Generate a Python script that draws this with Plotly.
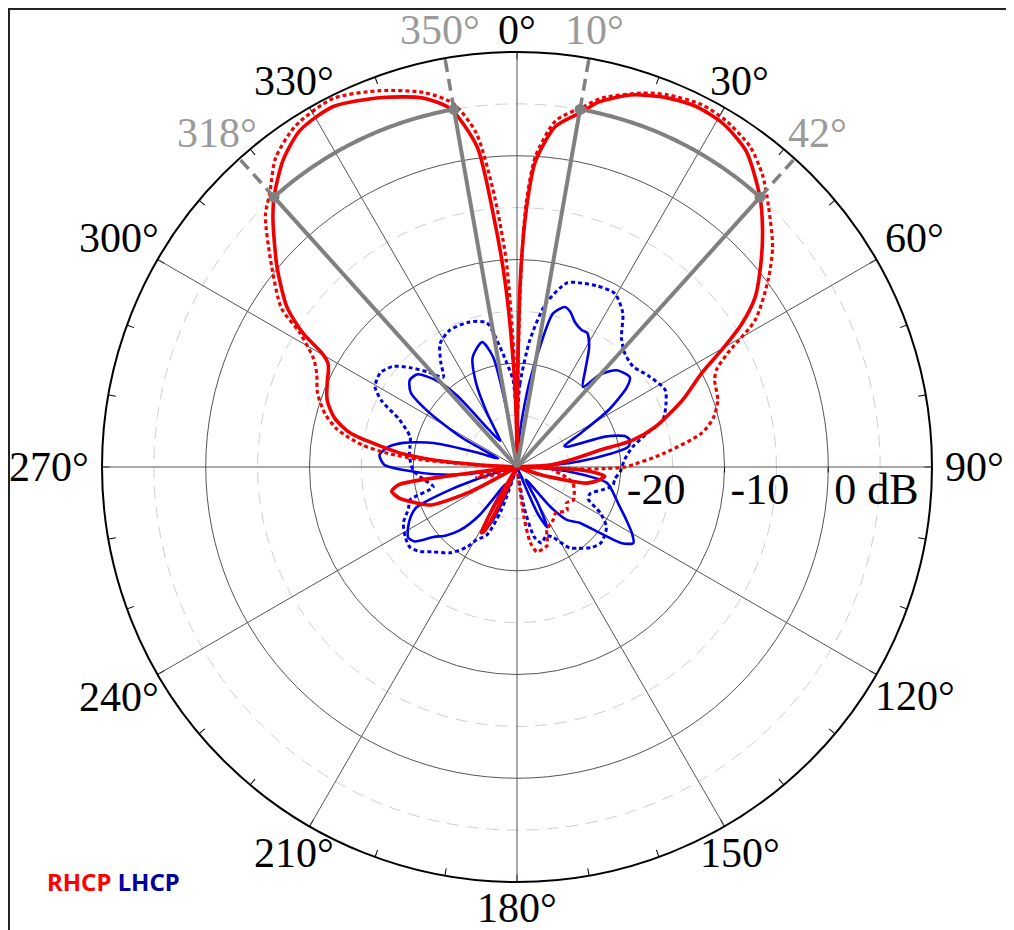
import numpy as np
import plotly.graph_objects as go

# ---------------- data (angle in degrees, level in dB) ----------------
rhcp_solid_theta = [0, 0.5, 1, 2, 3.4, 6.4, 10.4, 12.5, 17, 22, 26.5, 31, 36, 42, 46, 50, 54.5, 57.5,
                    60, 63, 68, 73.8, 77, 78.5, 82.5, 86.5, 89, 92, 94, 96, 99, 103, 108, 112, 200,
                    203, 205, 207, 208.5, 210, 212, 238, 242, 246, 250, 255, 259, 261.5, 262.5, 263.5,
                    272, 273.5, 274.8, 276.5, 278.5, 281.5, 285, 289.4, 294.6, 297, 298.8, 300.3, 302,
                    304.8, 309.8, 315.4, 318, 322.7, 327.2, 333, 340, 345.7, 349.5, 352.9, 354.6, 356.3,
                    358, 359.3, 360]
rhcp_solid_db = [-30, -20, -12, -5.5, -0.6, 3.0, 4.8, 6.0, 7.5, 8.4, 8.8, 8.6, 7.6, 5.0, 2.9, 0.7, -1.8, -4.3,
                 -7.0, -10, -12.8, -16.1, -18.6, -21.8, -24.8, -26.8, -30, -25, -22.5, -21.5, -22, -23.1, -27.5, -30, -30,
                 -30, -26, -23, -22.8, -25, -30, -30, -25, -21, -19.8, -18.3, -17.7, -18.5, -23, -30,
                 -30, -26, -21.9, -19, -16.9, -13.6, -11.8, -10.6, -9.9, -9.6, -9.2, -8.2, -5.7,
                 -3.0, 0.1, 3.5, 5.0, 7.2, 8.6, 9.0, 7.9, 6.7, 5.1, 1.1, -5.4, -12,
                 -20, -26, -30]

rhcp_dot_theta = [0, 0.6, 1.2, 2, 3.4, 6.4, 10.4, 13, 18.5, 22, 27, 31, 36, 40, 44, 49.3, 53.3, 58.3,
                  61.6, 64, 66.3, 71.6, 76, 79.6, 84.6, 90, 91, 92, 93, 95, 100, 106, 113, 120.5, 126,
                  131, 140, 146, 154.5, 159, 163, 166.8, 170, 172, 175, 248, 252, 256, 260, 270, 272,
                  273.5, 274.5, 276, 278, 280, 282, 285.5, 290.3, 295, 298, 301.7, 304, 310, 315, 318,
                  322, 327, 333.5, 340, 346, 350, 353, 355, 357, 359, 360]
rhcp_dot_db = [-30, -20, -11, -4.5, 0, 3.6, 5.3, 6.5, 8.0, 8.7, 9.2, 9.0, 8.2, 6.8, 4.9, 2.5, 0.2, -3.0,
               -6.9, -8.6, -9.2, -9.6, -10.5, -11.9, -15.7, -19.6, -21.5, -24, -26, -26.5, -25.5, -24.4, -24, -23.7, -24.1,
               -23.6, -24.2, -23.8, -23.3, -21.9, -21.7, -21.6, -22.6, -25, -30, -30, -27, -26, -28, -30, -28,
               -24, -20.5, -17.5, -15, -13.5, -12.2, -10.8, -9.5, -8.7, -7.8, -5.4, -2.6, 1.0, 4.3, 5.6,
               7.8, 9.2, 9.7, 8.6, 7.2, 5.6, 2.5, -3, -10, -22, -30]

lhcp_solid_theta = [0, 3, 4.5, 6.3, 8.5, 10.8, 13.2, 16.7, 19, 22, 25.4, 27.6, 31, 35, 39.5, 42, 45.9,
                    51.5, 54, 58, 62, 66, 68, 71, 74, 76.6, 79.8, 82, 85, 88, 91, 95, 100, 105, 110,
                    115, 120, 123.2, 126, 128.5, 132, 136.7, 140, 145, 150, 153.4, 156, 160, 198, 202,
                    205, 208, 211, 214, 218, 222, 226, 230, 234, 237, 241, 245, 248, 251, 254, 258,
                    262, 265, 268, 271, 275, 279, 282, 286, 290, 294, 298, 302, 305, 309, 313, 317,
                    320, 323, 327, 331, 334, 338, 344.4, 347.7, 350, 352, 360]
lhcp_solid_db = [-30, -30, -27, -24.8, -21.5, -18.2, -14.8, -13.9, -14.2, -15, -15.4, -15.4, -16.5, -18.5, -20, -18, -16.6,
                 -16.1, -16.9, -19.5, -23, -25, -24.8, -21, -19.2, -18.8, -19.1, -21, -24, -27, -28, -25, -21.2, -20.4, -19.6,
                 -18.5, -17.2, -16.6, -17.5, -19.8, -22, -23, -25, -28.5, -26, -23.5, -25, -30, -30, -27,
                 -24, -23.1, -25.5, -28, -24, -21.8, -20.5, -19.5, -17.8, -17.5, -18, -18.7, -19.5, -23, -27, -29,
                 -25, -22, -19.5, -17.2, -16.7, -17.5, -18.8, -21.6, -26, -28, -24, -19.8, -17.5, -16.7, -16.9, -18.6,
                 -21, -25.5, -27, -24, -21, -18.6, -17.5, -19.1, -25, -30, -30]

lhcp_dot_theta = [0, 2, 5.8, 10, 15.2, 19.5, 24, 29.4, 34.5, 39, 43.5, 49.2, 55, 62.5, 67, 72, 75, 80.2,
                  86, 92, 97, 101, 105, 110, 114, 119, 124, 132, 137, 143, 147, 153, 157, 162, 166, 170,
                  175, 195, 200, 204, 209, 212, 218, 224.7, 229, 233.2, 238, 243.8, 249, 252.9, 256.6,
                  262, 268, 275.3, 280.6, 285.7, 291.9, 296, 299.4, 304.5, 309, 312.8, 317, 320.6, 324,
                  328, 333.9, 342, 348.2, 351.9, 354.5, 357.4, 360]
lhcp_dot_db = [-25, -22, -17.7, -14, -11.6, -11.2, -10.9, -10.8, -12, -14, -14.9, -15.2, -14.6, -13.9, -14.4, -15.2, -16.8, -18.7,
               -19.6, -20, -20.5, -20.6, -21.5, -22.5, -22.5, -20.8, -19.6, -19.1, -19.4, -20.2, -20.7, -22.4, -22.8, -22.3, -23, -26,
               -30, -30, -25.5, -22.8, -22, -20.9, -19.5, -18.5, -17.6, -17.1, -17.3, -17.8, -18.8, -19.2, -21.7,
               -21, -20, -19.6, -19.5, -19.3, -17.8, -15.5, -14.3, -14, -14.6, -15.9, -17.5, -18.8, -17.5,
               -16, -15.3, -15.3, -15.8, -18.3, -20, -21.6, -25]

angle_tick_vals = list(range(0, 360, 30))
angle_tick_text = [f"{a}°" for a in angle_tick_vals]
minor_tick_vals = list(range(0, 360, 10))
beam_angles = [318, 350, 10, 42]
beam_labels = ["318°", "350°", "10°", "42°"]
beam_level = 5
radial_range = [-30, 10]
radial_label_vals = [-20, -10, 0]
radial_label_text = ["-20", "-10", "0 dB"]
dashed_ring_vals = [-25, -15, -5, 5]

# ---------------- styling / layout ----------------
RED = "#f00000"
BLUE = "#0000e6"
GRAY = "#808080"
SERIF = "Liberation Serif"
FONT_PX = 44
LABEL_PX = 42
W, H = 1006, 922            # page body has an 8px margin
CX, CY, R = 509, 459, 415   # circle centre / radius in figure pixels
dom_x = [(CX - R) / W, (CX + R) / W]
dom_y = [(H - CY - R) / H, (H - CY + R) / H]
SPAN = radial_range[1] - radial_range[0]


def px_to_db(d):
    return radial_range[0] + d / R * SPAN


def text_width(t, size):
    w = 0.0
    for ch in t:
        w += {"°": 0.4, " ": 0.25, "-": 0.333, "d": 0.5, "B": 0.667}.get(ch, 0.5)
    return w * size


def angle_label(angle, text, color, gap=13, half_h=15.5):
    hw = text_width(text, LABEL_PX) / 2
    s, c = np.sin(np.radians(angle)), np.cos(np.radians(angle))
    ext = min(hw / abs(s) if abs(s) > 1e-6 else np.inf, half_h / abs(c) if abs(c) > 1e-6 else np.inf)
    d = R + gap + ext
    x_px, y_px = CX + d * s, CY - d * c
    # keep the whole text box inside the figure
    y_px = min(max(y_px, LABEL_PX / 2 + 1), H - LABEL_PX / 2 - 1)
    return dict(x=x_px / W, y=(H - y_px) / H, xref="paper", yref="paper", text=text,
                xanchor="center", yanchor="middle", showarrow=False,
                font=dict(family=SERIF, size=LABEL_PX, color=color))


fig = go.Figure()

# invisible anchor trace so that the helper polar subplot gets rendered
fig.add_trace(go.Scatterpolar(theta=[0], r=[radial_range[0]], mode="markers", subplot="polar",
                              marker=dict(opacity=0, size=1), showlegend=False, hoverinfo="skip"))


def curve(theta, r, color, dash, width):
    fig.add_trace(go.Scatterpolar(
        theta=theta, r=np.maximum(np.array(r, dtype=float), radial_range[0]),
        mode="lines", subplot="polar2", showlegend=False, hoverinfo="skip",
        line=dict(color=color, dash=dash, width=width, shape="spline", smoothing=0.7)))


curve(lhcp_dot_theta, lhcp_dot_db, BLUE, "4px,3px", 3)
curve(lhcp_solid_theta, lhcp_solid_db, BLUE, "solid", 2.6)
curve(rhcp_dot_theta, rhcp_dot_db, RED, "4px,3px", 3.2)
curve(rhcp_solid_theta, rhcp_solid_db, RED, "solid", 3.6)

# beam-width markers
for a, b in [(beam_angles[0], beam_angles[1]), (beam_angles[2], beam_angles[3])]:
    arc = np.linspace(a, b if b > a else b + 360, 60)
    fig.add_trace(go.Scatterpolar(theta=arc, r=np.full(arc.size, beam_level), mode="lines",
                                  subplot="polar2", showlegend=False, hoverinfo="skip",
                                  line=dict(color=GRAY, width=4)))
for a in beam_angles:
    fig.add_trace(go.Scatterpolar(theta=[a, a], r=[radial_range[0], beam_level], mode="lines",
                                  subplot="polar2", showlegend=False, hoverinfo="skip",
                                  line=dict(color=GRAY, width=4)))
    fig.add_trace(go.Scatterpolar(theta=[a, a], r=[beam_level, radial_range[1]], mode="lines",
                                  subplot="polar2", showlegend=False, hoverinfo="skip",
                                  line=dict(color=GRAY, width=3.5, dash="12px,7px")))
fig.add_trace(go.Scatterpolar(theta=beam_angles, r=[beam_level] * len(beam_angles), mode="markers",
                              subplot="polar2", showlegend=False, hoverinfo="skip",
                              marker=dict(color=GRAY, size=11)))

# radial labels: left edge 6px beyond the ring, top 11px below the 90-degree spoke
rl_r, rl_t = [], []
for v, t in zip(radial_label_vals, radial_label_text):
    dx = R * (v - radial_range[0]) / SPAN + 6 + text_width(t, FONT_PX) / 2
    dy = 11 + 15
    rl_r.append(px_to_db(np.hypot(dx, dy)))
    rl_t.append(90 + np.degrees(np.arctan2(dy, dx)))
fig.add_trace(go.Scatterpolar(theta=rl_t, r=rl_r, mode="text", text=radial_label_text,
                              textposition="middle center",
                              textfont=dict(family=SERIF, size=FONT_PX, color="black"),
                              subplot="polar2", showlegend=False, hoverinfo="skip"))

annotations = [angle_label(a, t, "black") for a, t in zip(angle_tick_vals, angle_tick_text)]
annotations += [angle_label(a, t, "#9a9a9a") for a, t in zip(beam_angles, beam_labels)]
annotations.append(dict(
    x=37 / W, y=1 - 873 / H, xref="paper", yref="paper", xanchor="left", yanchor="middle",
    showarrow=False,
    text="<b><span style='color:#ff0000'>RHCP</span> <span style='color:#0000a0'>LHCP</span></b>",
    font=dict(family="Noto Sans", size=24)))

fig.update_layout(
    width=W, height=H,
    margin=dict(l=0, r=0, t=0, b=0),
    paper_bgcolor="white",
    polar=dict(
        domain=dict(x=dom_x, y=dom_y), bgcolor="white",
        angularaxis=dict(rotation=90, direction="clockwise", tickmode="array", tickvals=minor_tick_vals,
                         ticks="inside", ticklen=7, tickwidth=1.4, tickcolor="black",
                         showticklabels=False, showgrid=False, showline=False),
        radialaxis=dict(range=radial_range, tickmode="array", tickvals=dashed_ring_vals,
                        showgrid=True, gridcolor="#cfcfcf", griddash="12px,8px", gridwidth=1.4,
                        showticklabels=False, ticks="", showline=False),
    ),
    polar2=dict(
        domain=dict(x=dom_x, y=dom_y), bgcolor="rgba(0,0,0,0)",
        angularaxis=dict(rotation=90, direction="clockwise", tickmode="array", tickvals=angle_tick_vals,
                         showticklabels=False, ticks="", showgrid=True, gridcolor="#555555", gridwidth=0.9,
                         showline=True, linecolor="black", linewidth=2),
        radialaxis=dict(range=radial_range, angle=0, tickmode="array", tickvals=radial_label_vals,
                        showgrid=True, gridcolor="#555555", gridwidth=0.9, showticklabels=False,
                        ticks="outside", ticklen=5, tickwidth=1.4, tickcolor="black", showline=False),
    ),
    annotations=annotations,
    shapes=[
        dict(type="line", xref="paper", yref="paper", x0=0.001, x1=0.001, y0=0, y1=1,
             line=dict(color="#222222", width=2)),
        dict(type="line", xref="paper", yref="paper", x0=0, x1=1, y0=0.999, y1=0.999,
             line=dict(color="#222222", width=2)),
    ],
)

fig.write_html("out.html")
